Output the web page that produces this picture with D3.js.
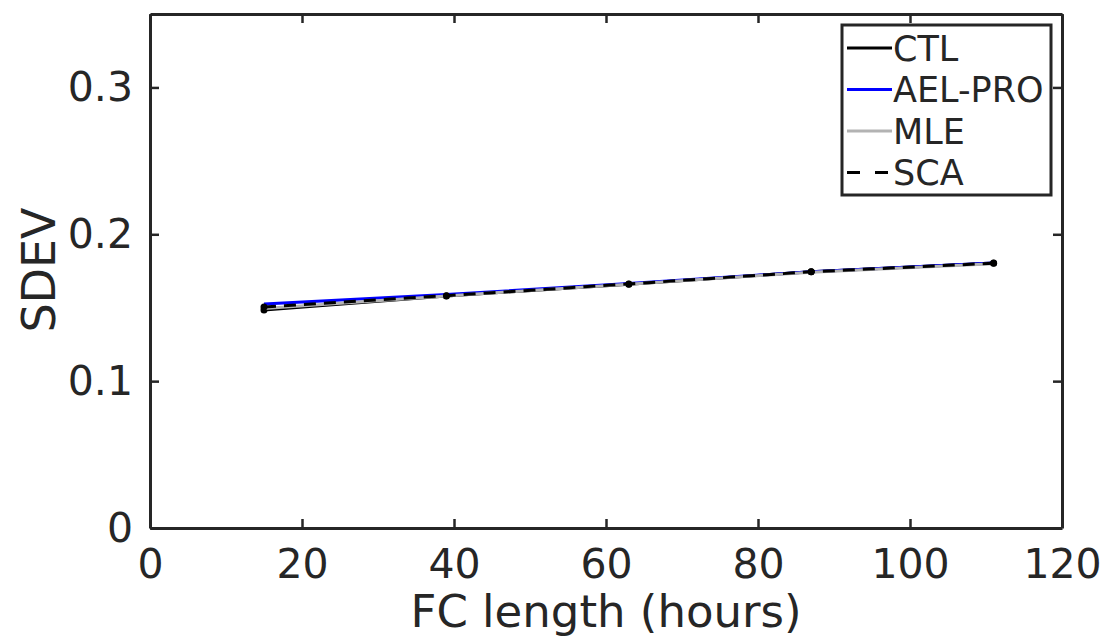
<!DOCTYPE html>
<html>
<head>
<meta charset="utf-8"/>
<title>SDEV vs FC length</title>
<script src="https://cdn.jsdelivr.net/npm/d3@7"></script>
<style>
  body { margin: 0; background: #fff; }
  text { font-family: "DejaVu Sans", sans-serif; fill: #262626; }
  .axis path, .axis line { stroke: #262626; }
</style>
</head>
<body>
<script>
// data
var hours = [15, 39, 63, 87, 111];
var ctl    = [0.1485, 0.1580, 0.1660, 0.1745, 0.1805];
var aelPro = [0.1525, 0.1590, 0.1665, 0.1745, 0.1805];
var mle    = [0.1495, 0.1580, 0.1660, 0.1742, 0.1800];
var sca    = [0.1505, 0.1582, 0.1662, 0.1745, 0.1803];
var seriesNames = ["CTL", "AEL-PRO", "MLE", "SCA"];
var xTicks = [0, 20, 40, 60, 80, 100, 120];
var yTicks = [0, 0.1, 0.2, 0.3];

var W = 1107, H = 639;
var m = {left: 150, right: 45, top: 14, bottom: 111};
var iw = W - m.left - m.right, ih = H - m.top - m.bottom;

var svg = d3.select("body").append("svg").attr("width", W).attr("height", H);
var g = svg.append("g").attr("transform", "translate(" + m.left + "," + m.top + ")");

var x = d3.scaleLinear().domain([0, 120]).range([0, iw]);
var y = d3.scaleLinear().domain([0, 0.35]).range([ih, 0]);

var fmtY = function(d) { return d === 0 ? "0" : d3.format(".1f")(d); };

// axes with inward ticks, mirrored on top/right
function style(sel) {
  sel.select(".domain").attr("stroke-width", 3);
  sel.selectAll(".tick line").attr("stroke-width", 2.5);
  sel.selectAll(".tick text").style("font-size", "41px").attr("fill", "#262626");
}
g.append("g").attr("class", "axis").attr("transform", "translate(0," + ih + ")")
  .call(d3.axisBottom(x).tickValues(xTicks).tickSizeInner(-9).tickSizeOuter(0).tickPadding(21))
  .call(style);
g.append("g").attr("class", "axis")
  .call(d3.axisLeft(y).tickValues(yTicks).tickFormat(fmtY).tickSizeInner(-9).tickSizeOuter(0).tickPadding(17))
  .call(style);
g.append("g").attr("class", "axis")
  .call(d3.axisTop(x).tickValues(xTicks).tickSizeInner(-9).tickSizeOuter(0).tickFormat(""))
  .call(style);
g.append("g").attr("class", "axis").attr("transform", "translate(" + iw + ",0)")
  .call(d3.axisRight(y).tickValues(yTicks).tickSizeInner(-9).tickSizeOuter(0).tickFormat(""))
  .call(style);

// axis titles
svg.append("text").attr("x", m.left + iw / 2).attr("y", 627)
  .attr("text-anchor", "middle").style("font-size", "45px").text("FC length (hours)");
svg.append("text").attr("transform", "translate(55,270) rotate(-90)")
  .attr("text-anchor", "middle").style("font-size", "46px").text("SDEV");

// series
var series = [
  {name: seriesNames[0], vals: ctl,    color: "#000000", dash: null, dots: true},
  {name: seriesNames[1], vals: aelPro, color: "#0000ff", dash: null, dots: false},
  {name: seriesNames[2], vals: mle,    color: "#b3b3b3", dash: null, dots: false},
  {name: seriesNames[3], vals: sca,    color: "#000000", dash: "12,8", dots: true}
];

var line = d3.line().x(function(d) { return x(d[0]); }).y(function(d) { return y(d[1]); });

series.forEach(function(s) {
  var pts = hours.map(function(h, i) { return [h, s.vals[i]]; });
  g.append("path").datum(pts)
    .attr("fill", "none").attr("stroke", s.color).attr("stroke-width", 3)
    .attr("stroke-dasharray", s.dash).attr("d", line);
  if (s.dots) {
    g.selectAll(null).data(pts).enter().append("circle")
      .attr("cx", function(d) { return x(d[0]); })
      .attr("cy", function(d) { return y(d[1]); })
      .attr("r", 3.5).attr("fill", s.color);
  }
});

// legend
var lg = svg.append("g").attr("transform", "translate(842,25)");
lg.append("rect").attr("width", 209).attr("height", 170)
  .attr("fill", "#fff").attr("stroke", "#262626").attr("stroke-width", 3);
series.forEach(function(s, i) {
  var yy = 23 + i * 41.5;
  lg.append("line").attr("x1", 5).attr("x2", 50).attr("y1", yy).attr("y2", yy)
    .attr("stroke", s.color).attr("stroke-width", 3).attr("stroke-dasharray", s.dash ? "13,15" : null);
  lg.append("text").attr("x", 51).attr("y", yy).attr("dy", "0.36em")
    .style("font-size", "35px").attr("fill", "#000").text(s.name);
});
</script>
</body>
</html>
